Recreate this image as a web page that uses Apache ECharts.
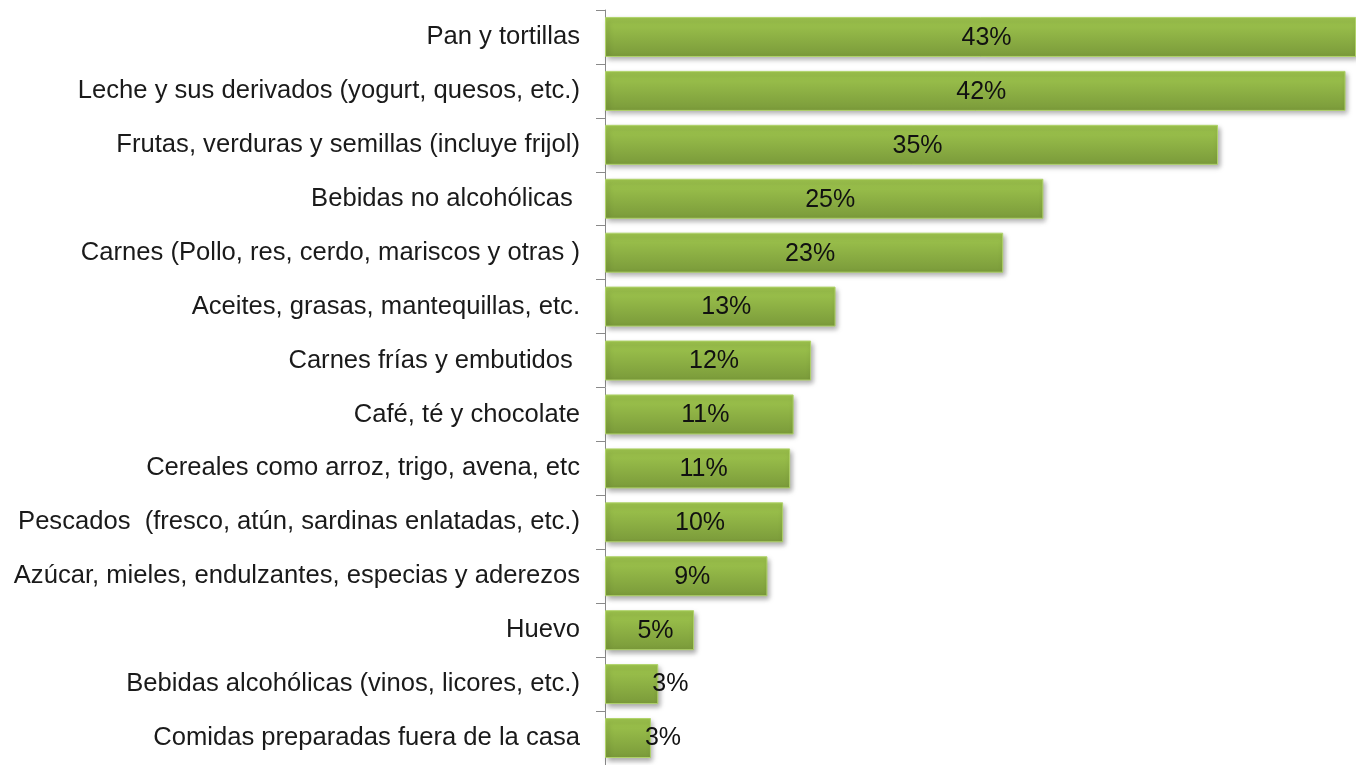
<!DOCTYPE html>
<html>
<head>
<meta charset="utf-8">
<script src="https://cdn.jsdelivr.net/npm/echarts@6/dist/echarts.min.js"></script>
<style>
  html, body { margin: 0; padding: 0; background: #fff; }
  #chart { width: 1356px; height: 765px; }
</style>
</head>
<body>
<div id="chart"></div>
<script>
// categorias (de arriba hacia abajo)
var categories = [
  'Pan y tortillas',
  'Leche y sus derivados (yogurt, quesos, etc.)',
  'Frutas, verduras y semillas (incluye frijol)',
  'Bebidas no alcohólicas ',
  'Carnes (Pollo, res, cerdo, mariscos y otras )',
  'Aceites, grasas, mantequillas, etc.',
  'Carnes frías y embutidos ',
  'Café, té y chocolate',
  'Cereales como arroz, trigo, avena, etc',
  'Pescados  (fresco, atún, sardinas enlatadas, etc.)',
  'Azúcar, mieles, endulzantes, especias y aderezos',
  'Huevo',
  'Bebidas alcohólicas (vinos, licores, etc.)',
  'Comidas preparadas fuera de la casa'
];
// porcentajes
var values = [43, 42.4, 35.1, 25.1, 22.8, 13.2, 11.8, 10.8, 10.6, 10.2, 9.3, 5.1, 3.05, 2.63];

var chart = echarts.init(document.getElementById('chart'));

var barColor = new echarts.graphic.LinearGradient(0, 0, 0, 1, [
  { offset: 0, color: '#a0c74e' },
  { offset: 1, color: '#7a9a3a' }
]);

// etiquetas: las barras chicas llevan el texto pegado al final
var seriesData = values.map(function (v) {
  var item = { value: v };
  if (v < 4) {
    item.label = { position: 'right', distance: -6, offset: [0, 0] };
  }
  return item;
});

var option = {
  animation: false,
  grid: {
    left: 605,
    right: 0,
    top: 10,
    height: 759
  },
  xAxis: {
    type: 'value',
    min: 0,
    max: 43,
    show: false
  },
  yAxis: {
    type: 'category',
    inverse: true,
    data: categories,
    axisLine: { show: true, lineStyle: { color: '#8a8a8a', width: 1 } },
    axisTick: { show: true, length: 9, lineStyle: { color: '#8a8a8a' } },
    axisLabel: {
      margin: 25,
      color: '#1a1a1a',
      fontSize: 25.6,
      fontFamily: 'Liberation Sans, Arial, sans-serif'
    },
    splitLine: { show: false }
  },
  series: [
    {
      type: 'bar',
      data: seriesData,
      barWidth: 40,
      itemStyle: {
        color: barColor,
        borderColor: '#b0d36a',
        borderWidth: 1,
        shadowColor: 'rgba(0,0,0,0.35)',
        shadowBlur: 5,
        shadowOffsetX: 2,
        shadowOffsetY: 3
      },
      label: {
        show: true,
        position: 'inside',
        offset: [6, 1],
        color: '#111',
        fontSize: 25,
        fontFamily: 'Liberation Sans, Arial, sans-serif',
        formatter: function (p) {
          return Math.round(p.value) + '%';
        }
      }
    }
  ]
};

chart.setOption(option);
</script>
</body>
</html>
